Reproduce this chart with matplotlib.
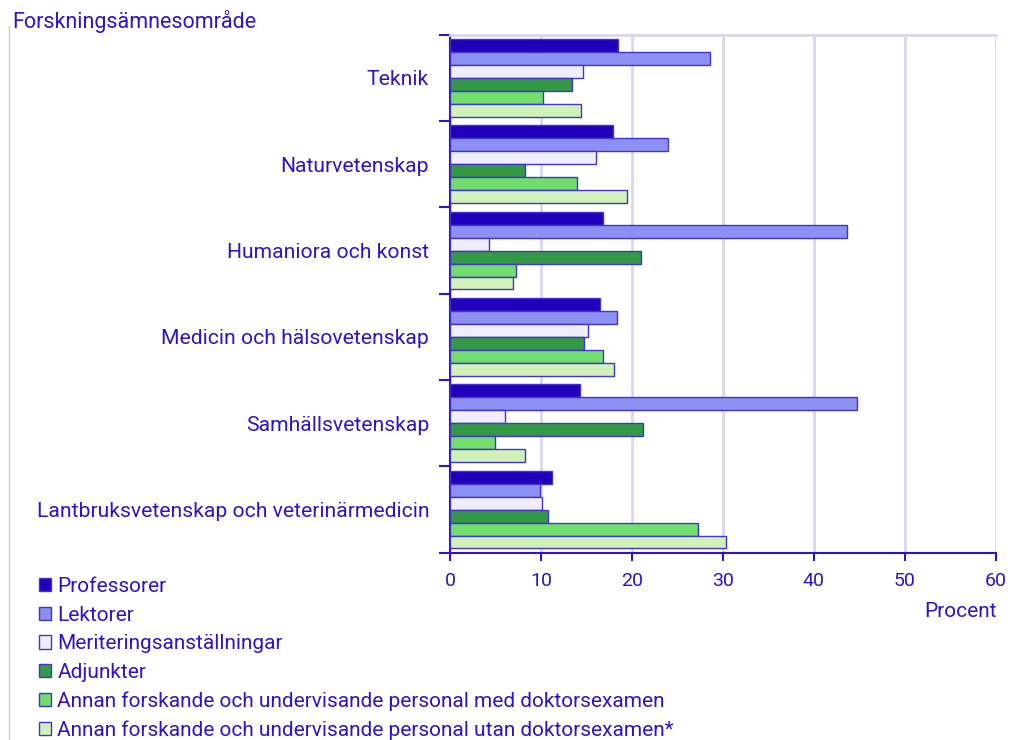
import numpy as np
import matplotlib.pyplot as plt
from matplotlib.patches import Patch
from matplotlib.lines import Line2D

plt.rcParams['font.family'] = ['Roboto', 'DejaVu Sans']

# data: share (%) per research area and staff category
omraden = ['Teknik', 'Naturvetenskap', 'Humaniora och konst',
           'Medicin och hälsovetenskap', 'Samhällsvetenskap',
           'Lantbruksvetenskap och veterinärmedicin']
kategorier = ['Professorer', 'Lektorer', 'Meriteringsanställningar', 'Adjunkter',
              'Annan forskande och undervisande personal med doktorsexamen',
              'Annan forskande och undervisande personal utan doktorsexamen*']
professorer = [18.5, 17.9, 16.8, 16.5, 14.3, 11.2]
lektorer = [28.6, 24.0, 43.7, 18.4, 44.7, 9.9]
meritering = [14.6, 16.0, 4.3, 15.2, 6.0, 10.1]
adjunkter = [13.4, 8.3, 21.0, 14.7, 21.2, 10.8]
annan_med = [10.2, 14.0, 7.3, 16.8, 4.9, 27.3]
annan_utan = [14.4, 19.5, 6.9, 18.0, 8.3, 30.4]
serier = [professorer, lektorer, meritering, adjunkter, annan_med, annan_utan]

farger = ['#2200bb', '#8c90f2', '#eeeeff', '#339944', '#70dd6c', '#d0f2b8']
textfarg = '#3311cc'
kant = '#4433cc'
gridfarg = '#d8d8f0'

fig = plt.figure(figsize=(10.19, 7.40), dpi=100)
ax = fig.add_axes([0.4416, 0.253, 0.5355, 0.700])

y = np.arange(len(omraden))
h = 0.15
for i, (vals, c) in enumerate(zip(serier, farger)):
    ax.barh(y + (i - 2.5) * h, vals, height=h, color=c, edgecolor=kant,
            linewidth=1.0, zorder=3)

ax.set_xlim(0, 60)
ax.set_ylim(len(omraden) - 0.5, -0.5)
ax.set_xticks(range(0, 61, 10))
ax.tick_params(axis='x', colors=textfarg, labelsize=14, length=6, width=1.5,
               direction='out', pad=8)
ax.set_yticks(y)
ax.set_yticklabels(omraden)
ax.tick_params(axis='y', which='major', length=0, labelsize=15.2,
               labelcolor=textfarg, pad=15)
ax.set_yticks(np.arange(-0.5, len(omraden)), minor=True)
ax.tick_params(axis='y', which='minor', length=8, width=1.5, color=textfarg)

ax.grid(axis='x', color=gridfarg, linewidth=2, zorder=0)
for s in ['left', 'bottom']:
    ax.spines[s].set_color(textfarg)
    ax.spines[s].set_linewidth(1.5)
ax.spines['top'].set_color(gridfarg)
ax.spines['top'].set_linewidth(2)
ax.spines['right'].set_visible(False)

fig.text(0.012, 0.971, 'Forskningsämnesområde', color=textfarg, fontsize=15.5,
         ha='left', va='center')
fig.text(0.978, 0.173, 'Procent', color=textfarg, fontsize=15,
         ha='right', va='center')

# left border line
fig.add_artist(Line2D([0.009, 0.009], [0.0, 0.965], color='#cccccc',
                      linewidth=1, transform=fig.transFigure))

handles = [Patch(facecolor=c, edgecolor=kant, linewidth=1.0) for c in farger]
fig.legend(handles, kategorier, loc='upper left', bbox_to_anchor=(0.038, 0.220),
           frameon=False, fontsize=15, labelcolor=textfarg, handlelength=0.6,
           handleheight=0.6, handletextpad=0.3, labelspacing=0.46,
           borderaxespad=0, borderpad=0)

fig.savefig('out.png', dpi=100)
